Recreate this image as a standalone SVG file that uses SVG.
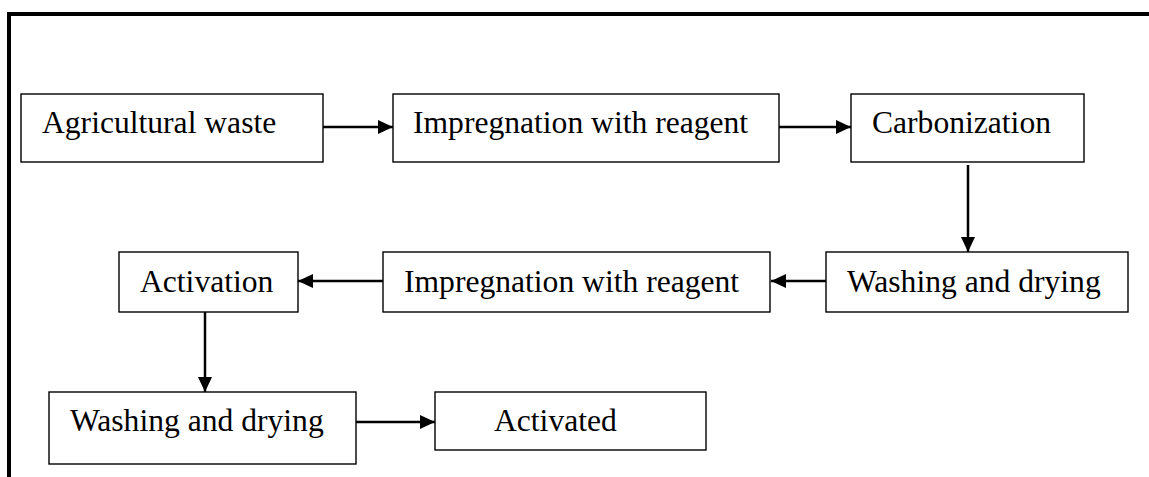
<svg xmlns="http://www.w3.org/2000/svg" width="1149" height="477" viewBox="0 0 1149 477">
  <style>
    .box { fill: #ffffff; stroke: #000000; stroke-width: 1.4; }
    .lbl { font-family: "Liberation Serif", "Times New Roman", serif; font-size: 31.6px; fill: #000000; }
    .link { stroke: #000000; stroke-width: 2.5; fill: none; marker-end: url(#head); }
    .frame { stroke: #000000; stroke-width: 4; fill: none; }
  </style>
  <defs>
    <marker id="head" markerUnits="userSpaceOnUse" markerWidth="15" markerHeight="15" refX="15" refY="7.5" orient="auto">
      <path d="M0,0.5 L15,7.5 L0,14.5 Z" fill="#000000"/>
    </marker>
  </defs>
  <rect width="1149" height="477" fill="#ffffff"/>

  <!-- outer frame: top and left edges -->
  <path class="frame" d="M9,477 L9,14 L1149,14"/>

  <g id="connectors">
    <line class="link" x1="323" y1="127" x2="393" y2="127"/>
    <line class="link" x1="779" y1="127" x2="851" y2="127"/>
    <line class="link" x1="968" y1="165" x2="968" y2="252"/>
    <line class="link" x1="826" y1="281" x2="771" y2="281"/>
    <line class="link" x1="383" y1="281" x2="298" y2="281"/>
    <line class="link" x1="205" y1="312" x2="205" y2="392"/>
    <line class="link" x1="356" y1="422" x2="435" y2="422"/>
  </g>

  <g id="agricultural-waste">
    <rect class="box" x="21" y="94" width="302" height="68"/>
    <text class="lbl" x="42" y="133">Agricultural waste</text>
  </g>
  <g id="impregnation-1">
    <rect class="box" x="393" y="94" width="386" height="68"/>
    <text class="lbl" x="413" y="133">Impregnation with reagent</text>
  </g>
  <g id="carbonization">
    <rect class="box" x="851" y="94" width="233" height="68"/>
    <text class="lbl" x="872" y="133">Carbonization</text>
  </g>
  <g id="washing-1">
    <rect class="box" x="826" y="252" width="302" height="60"/>
    <text class="lbl" x="847" y="292">Washing and drying</text>
  </g>
  <g id="impregnation-2">
    <rect class="box" x="383" y="252" width="387" height="60"/>
    <text class="lbl" x="404" y="292">Impregnation with reagent</text>
  </g>
  <g id="activation">
    <rect class="box" x="119" y="252" width="179" height="60"/>
    <text class="lbl" x="140" y="292">Activation</text>
  </g>
  <g id="washing-2">
    <rect class="box" x="49" y="392" width="307" height="72"/>
    <text class="lbl" x="70" y="431">Washing and drying</text>
  </g>
  <g id="activated">
    <rect class="box" x="435" y="392" width="271" height="58"/>
    <text class="lbl" x="494" y="431">Activated</text>
  </g>
</svg>
